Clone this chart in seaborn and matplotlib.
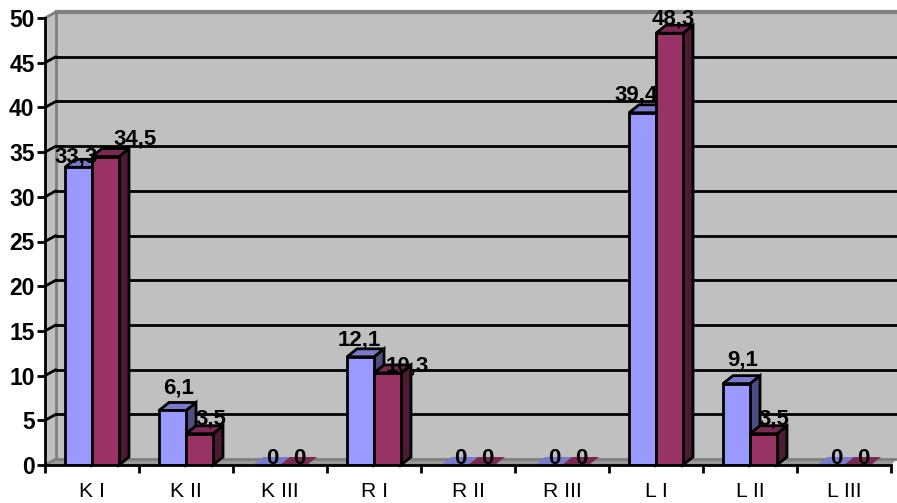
import matplotlib
matplotlib.use("Agg")
import matplotlib.pyplot as plt
import pandas as pd
import seaborn as sns
from matplotlib.patches import Polygon

categories = ["K I", "K II", "K III", "R I", "R II", "R III", "L I", "L II", "L III"]
series_a = [33.3, 6.1, 0, 12.1, 0, 0, 39.4, 9.1, 0]
series_b = [34.5, 3.5, 0, 10.3, 0, 0, 48.3, 3.5, 0]

sns.set_theme(style="white")
plt.rcParams["font.family"] = ["Liberation Sans", "DejaVu Sans"]

W, H = 897, 503
fig = plt.figure(figsize=(W / 100, H / 100), dpi=100, facecolor="white")
ax = fig.add_axes([45 / W, (H - 465) / H, 846 / W, 447 / H])
ax.patch.set_visible(False)

df = pd.DataFrame({
    "cat": categories * 2,
    "val": series_a + series_b,
    "ser": ["a"] * 9 + ["b"] * 9,
})
FRONT = {"a": "#9999FF", "b": "#993366"}
TOP = {"a": "#7A7ACC", "b": "#7A2952"}
SIDE = {"a": "#4D4D80", "b": "#4D1A33"}
EDGE_LW = 2.0

sns.barplot(data=df, x="cat", y="val", hue="ser", order=categories, palette=FRONT,
            width=54 / 94, gap=0, dodge=True, legend=False, saturation=1,
            edgecolor="black", linewidth=EDGE_LW, ax=ax)
ax.set_xlim(-0.5, 8.5)
ax.set_ylim(0, 50)
ax.set_xlabel("")
ax.set_ylabel("")

# pixel sizes of the pseudo-3D depth, expressed in data units
px_x = 9 / 846
px_y = 50 / 447
wall_dx, wall_dy = 11 * px_x, 6 * px_y
bar_dx, bar_dy = 10 * px_x, 8 * px_y
x0, x1 = -0.5, 8.5
right_edge = x1 + 6 * px_x
WALL = "#C0C0C0"
GREY = "#808080"


def shape(points, face, edge, lw, z):
    ax.add_patch(Polygon(points, closed=True, facecolor=face, edgecolor=edge,
                         linewidth=lw, zorder=z, clip_on=False, joinstyle="miter"))


# back wall, side wall and floor
shape([(x0 + wall_dx, wall_dy), (right_edge, wall_dy), (right_edge, 50 + wall_dy),
       (x0 + wall_dx, 50 + wall_dy)], WALL, "none", 0, 0.1)
shape([(x0, 0), (x0 + wall_dx, wall_dy), (x0 + wall_dx, 50 + wall_dy), (x0, 50)], WALL, "none", 0, 0.1)
shape([(x0, 0), (x0 + wall_dx, wall_dy), (right_edge, wall_dy), (x1, 0)], "#9A9A9A", "none", 0, 0.2)
ax.plot([x0 + wall_dx, right_edge], [wall_dy, wall_dy], color=GREY, lw=2, zorder=0.3, clip_on=False)
ax.plot([x0 + wall_dx, x0 + wall_dx], [wall_dy, 50 + wall_dy], color=GREY, lw=2, zorder=0.3, clip_on=False)
ax.plot([x0 + wall_dx, right_edge], [50 + wall_dy, 50 + wall_dy], color=GREY, lw=3, zorder=0.3, clip_on=False)
ax.plot([x0, x0 + wall_dx], [50, 50 + wall_dy], color=GREY, lw=2, zorder=0.3, clip_on=False)
ax.plot([x0, x0 + wall_dx], [0, wall_dy], color=GREY, lw=2, zorder=0.3, clip_on=False)

# gridlines run along the wall, with a short diagonal back from each tick
for level in range(5, 50, 5):
    ax.plot([x0 + wall_dx, right_edge], [level + wall_dy] * 2, color="black", lw=2.0, zorder=0.4, clip_on=False)
    ax.plot([x0, x0 + wall_dx], [level, level + wall_dy], color="black", lw=2.0, zorder=0.4, clip_on=False)

# top and side faces follow the geometry of each bar
n = len(categories)
for i, bar in enumerate(ax.patches[:2 * n]):
    key = "a" if i < n else "b"
    z = 2 if key == "a" else 3
    left, w, h = bar.get_x(), bar.get_width(), bar.get_height()
    right = left + w
    bar.set_zorder(z + 0.1)
    if h > 0:
        shape([(right, 0), (right + bar_dx, bar_dy), (right + bar_dx, h + bar_dy), (right, h)],
              SIDE[key], "black", EDGE_LW, z)
    else:
        bar.set_visible(False)
    shape([(left, h), (left + bar_dx, h + bar_dy), (right + bar_dx, h + bar_dy), (right, h)],
          TOP[key], "black", EDGE_LW if h > 0 else 0, z)

# value labels sit beside the bars, nudged by hand so they stay readable
nudges_a = [(-2, 5), (6, 17), (6, 1), (-1, 11), (6, 1), (6, 1), (-6, 12), (6, 18), (6, 1)]
nudges_b = [(30, 12), (11, 9), (6, 1), (20, 1), (6, 1), (6, 1), (4, 9), (10, 9), (6, 1)]
for values, nudges, offset in ((series_a, nudges_a, -13.5 / 94), (series_b, nudges_b, 13.5 / 94)):
    for pos, (v, nudge) in enumerate(zip(values, nudges)):
        text = f"{v:.1f}".replace(".", ",") if v else "0"
        ax.annotate(text, (pos + offset, v), xytext=nudge, textcoords="offset pixels",
                    ha="center", va="baseline", fontsize=16, fontweight="bold",
                    color="black", zorder=4.5, annotation_clip=False)

# axes
for name in ("top", "right"):
    ax.spines[name].set_visible(False)
for name in ("left", "bottom"):
    ax.spines[name].set_color("black")
    ax.spines[name].set_linewidth(2.0)
    ax.spines[name].set_zorder(5)
ax.set_yticks(range(0, 55, 5))
ax.set_xticks(range(n))
ax.set_xticklabels(categories)
ax.set_xticks([x0 + k for k in range(n + 1)], minor=True)
ax.tick_params(axis="y", left=True, length=5.5, width=2.0, color="black", pad=2,
               labelsize=16.5, labelcolor="black")
for label in ax.get_yticklabels():
    label.set_fontweight("bold")
ax.tick_params(axis="x", which="major", bottom=False, length=0, pad=12, labelsize=15.2, labelcolor="black")
ax.tick_params(axis="x", which="minor", bottom=True, length=5.5, width=2.0, color="black")

fig.savefig("out.png", dpi=100, facecolor="white")
